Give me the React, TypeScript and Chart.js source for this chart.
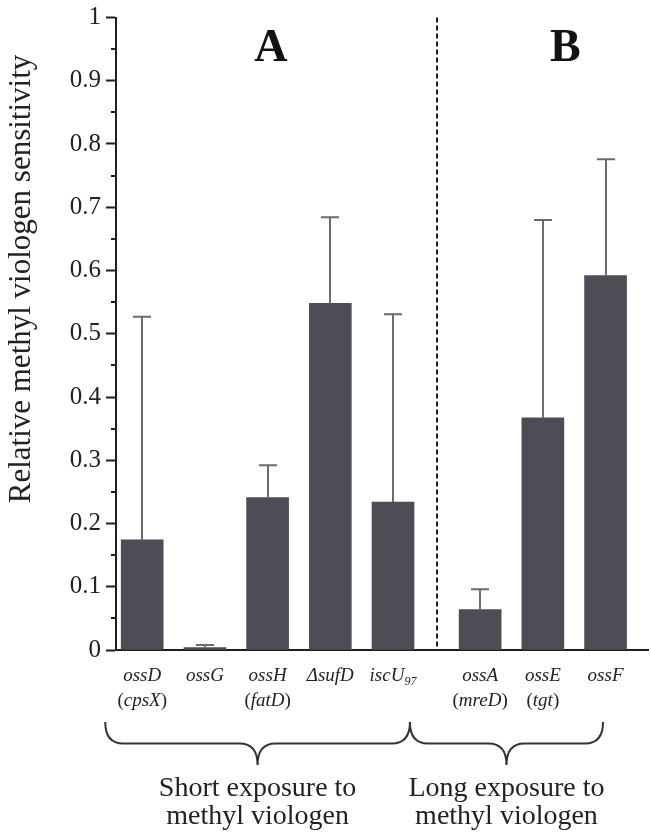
import React, { useEffect, useRef } from "react";
import { Chart, registerables } from "chart.js";

Chart.register(...registerables);

// ---------- data ----------
const geneLabels = ["ossD", "ossG", "ossH", "ΔsufD", "iscU", "ossA", "ossE", "ossF"];
const geneSubscripts = ["", "", "", "", "97", "", "", ""];
const aliasLabels = ["cpsX", "", "fatD", "", "", "mreD", "tgt", ""];
const sensitivity = [0.174, 0.004, 0.241, 0.548, 0.234, 0.064, 0.367, 0.592];
const errorUpper = [0.527, 0.008, 0.292, 0.684, 0.531, 0.096, 0.68, 0.776];
const groupSizes = [5, 3];
const groupTitles = [
  ["Short exposure to", "methyl viologen"],
  ["Long exposure to", "methyl viologen"],
];
const panelLetters = ["A", "B"];
const yAxisTitle = "Relative methyl viologen sensitivity";

// ---------- layout constants ----------
const W = 651;
const H = 833;
const GROUP_GAP = 0.39;
const SERIF = "'Liberation Serif', 'Times New Roman', 'DejaVu Serif', serif";
const BAR_COLOR = "#4d4d55";
const ERR_COLOR = "#6c6c6c";
const AXIS_COLOR = "#1e1e1e";

// category position on the x scale: index plus a gap between the two groups
const groupOf: number[] = [];
groupSizes.forEach((n, g) => {
  for (let k = 0; k < n; k++) groupOf.push(g);
});
const xPos = geneLabels.map((_, i) => i + groupOf[i] * GROUP_GAP);

function drawSegments(
  ctx: CanvasRenderingContext2D,
  segs: { t: string; italic: boolean; sub?: boolean }[],
  cx: number,
  baseline: number,
  size: number
) {
  const fontFor = (s: { italic: boolean; sub?: boolean }) =>
    `${s.italic ? "italic " : ""}${s.sub ? Math.round(size * 0.62) : size}px ${SERIF}`;
  let total = 0;
  const widths = segs.map((s) => {
    ctx.font = fontFor(s);
    const w = ctx.measureText(s.t).width;
    total += w;
    return w;
  });
  let x = cx - total / 2;
  segs.forEach((s, i) => {
    ctx.font = fontFor(s);
    ctx.fillText(s.t, x, s.sub ? baseline + size * 0.22 : baseline);
    x += widths[i];
  });
}

function drawBrace(ctx: CanvasRenderingContext2D, x1: number, x2: number, yTop: number, yTip: number) {
  const mid = (x1 + x2) / 2;
  const yMid = (yTop + yTip) / 2;
  const r = 18;
  ctx.beginPath();
  ctx.moveTo(x1, yTop);
  ctx.quadraticCurveTo(x1, yMid, x1 + r, yMid);
  ctx.lineTo(mid - r, yMid);
  ctx.quadraticCurveTo(mid, yMid, mid, yTip);
  ctx.quadraticCurveTo(mid, yMid, mid + r, yMid);
  ctx.lineTo(x2 - r, yMid);
  ctx.quadraticCurveTo(x2, yMid, x2, yTop);
  ctx.stroke();
}

const decorPlugin = {
  id: "decor",
  afterDatasetsDraw(chart: any) {
    const ctx: CanvasRenderingContext2D = chart.ctx;
    const xs = chart.scales.x;
    const ys = chart.scales.y;
    const area = chart.chartArea;
    ctx.save();

    // minor ticks
    ctx.strokeStyle = AXIS_COLOR;
    ctx.lineWidth = 2;
    for (let v = 0.05; v < 1; v += 0.1) {
      const y = Math.round(ys.getPixelForValue(v));
      ctx.beginPath();
      ctx.moveTo(area.left - 5, y);
      ctx.lineTo(area.left, y);
      ctx.stroke();
    }

    // error bars (upper only)
    const meta = chart.getDatasetMeta(0);
    ctx.strokeStyle = ERR_COLOR;
    ctx.lineWidth = 2;
    meta.data.forEach((el: any, i: number) => {
      const x = Math.round(el.x);
      const yTop = ys.getPixelForValue(errorUpper[i]);
      ctx.beginPath();
      ctx.moveTo(x, el.y);
      ctx.lineTo(x, yTop);
      ctx.moveTo(x - 9, yTop);
      ctx.lineTo(x + 9, yTop);
      ctx.stroke();
    });

    // dashed separator between groups
    const sepX = Math.round(xs.getPixelForValue((xPos[groupSizes[0] - 1] + xPos[groupSizes[0]]) / 2));
    ctx.strokeStyle = AXIS_COLOR;
    ctx.lineWidth = 2;
    ctx.setLineDash([5, 3]);
    ctx.beginPath();
    ctx.moveTo(sepX, area.top);
    ctx.lineTo(sepX, area.bottom);
    ctx.stroke();
    ctx.setLineDash([]);

    // panel letters
    ctx.fillStyle = "#111";
    ctx.textAlign = "center";
    ctx.textBaseline = "alphabetic";
    ctx.font = `bold 46px ${SERIF}`;
    const letterVals = [2.05, 6.75];
    panelLetters.forEach((L, g) => {
      ctx.fillText(L, xs.getPixelForValue(letterVals[g]), 61);
    });

    // category labels
    ctx.textAlign = "left";
    ctx.fillStyle = "#222";
    geneLabels.forEach((name, i) => {
      const cx = xs.getPixelForValue(xPos[i]);
      const segs: any[] = [{ t: name, italic: true }];
      if (geneSubscripts[i]) segs.push({ t: geneSubscripts[i], italic: true, sub: true });
      drawSegments(ctx, segs, cx, 681, 19);
      if (aliasLabels[i]) {
        drawSegments(
          ctx,
          [
            { t: "(", italic: false },
            { t: aliasLabels[i], italic: true },
            { t: ")", italic: false },
          ],
          cx,
          706,
          19
        );
      }
    });

    // braces and group titles
    let start = 0;
    const braceEnds: number[] = [];
    groupSizes.forEach((n, g) => {
      const first = xPos[start];
      const last = xPos[start + n - 1];
      const x1 = g === 0 ? xs.getPixelForValue(first - 0.59) : braceEnds[g - 1];
      const x2 = g === 0 ? xs.getPixelForValue(last + 0.27) : xs.getPixelForValue(last - 0.04);
      braceEnds.push(x2);
      ctx.strokeStyle = "#333";
      ctx.lineWidth = 2;
      drawBrace(ctx, x1, x2, 722, 765);
      const mid = (x1 + x2) / 2;
      ctx.fillStyle = "#222";
      ctx.textAlign = "center";
      ctx.font = `28px ${SERIF}`;
      ctx.fillText(groupTitles[g][0], mid, 796);
      ctx.fillText(groupTitles[g][1], mid, 824);
      ctx.textAlign = "left";
      start += n;
    });

    // y axis title
    ctx.save();
    ctx.translate(22, 279);
    ctx.rotate(-Math.PI / 2);
    ctx.textAlign = "center";
    ctx.textBaseline = "middle";
    ctx.font = `31px ${SERIF}`;
    ctx.fillStyle = "#222";
    ctx.fillText(yAxisTitle, 0, 0);
    ctx.restore();

    ctx.restore();
  },
};

export default function App() {
  const ref = useRef<HTMLCanvasElement | null>(null);

  useEffect(() => {
    if (!ref.current) return;
    const chart = new Chart(ref.current, {
      type: "bar",
      data: {
        datasets: [
          {
            data: sensitivity.map((v, i) => ({ x: xPos[i], y: v })),
            backgroundColor: BAR_COLOR,
            borderWidth: 0,
            barThickness: 42,
          },
        ],
      },
      options: {
        animation: false,
        responsive: false,
        layout: { padding: { top: 0, right: 3, left: 0, bottom: 0 } },
        plugins: { legend: { display: false }, tooltip: { enabled: false } },
        scales: {
          x: {
            type: "linear",
            offset: false,
            min: -0.418,
            max: 8.067,
            grid: { display: false, offset: false },
            ticks: { display: false },
            border: { display: true, color: AXIS_COLOR, width: 2 },
            afterFit: (scale: any) => {
              scale.height = 183;
            },
          },
          y: {
            min: 0,
            max: 1,
            ticks: {
              stepSize: 0.1,
              padding: 5,
              color: "#222",
              font: { family: SERIF, size: 25, lineHeight: 1.0 },
              callback: (v: any) => String(Number(Number(v).toFixed(1))),
            },
            grid: {
              drawOnChartArea: false,
              drawTicks: true,
              tickLength: 10,
              tickWidth: 2,
              tickColor: AXIS_COLOR,
            },
            border: { display: true, color: AXIS_COLOR, width: 2 },
            afterFit: (scale: any) => {
              scale.width = 116;
            },
          },
        },
      },
      plugins: [decorPlugin],
    });
    return () => chart.destroy();
  }, []);

  return (
    <div style={{ position: "absolute", left: 0, top: 0, width: W, height: H, background: "#fff" }}>
      <canvas ref={ref} width={W} height={H} style={{ width: W, height: H, display: "block" }} />
    </div>
  );
}
